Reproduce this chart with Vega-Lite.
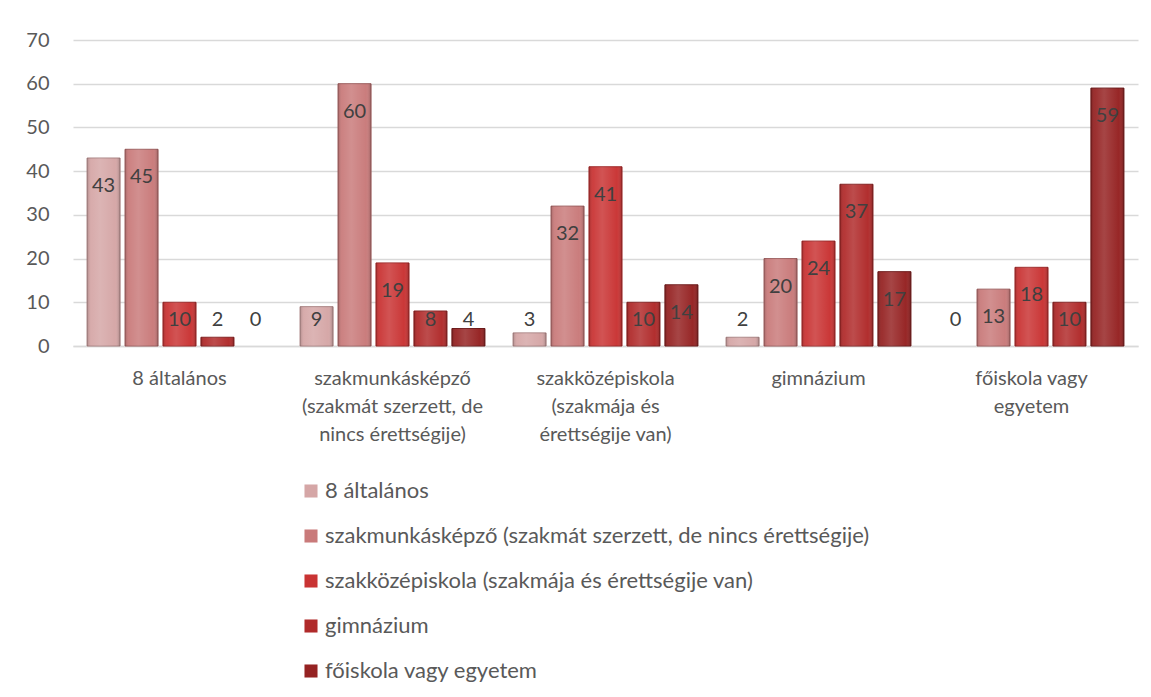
{
  "$schema": "https://vega.github.io/schema/vega-lite/v6.json",
  "autosize": {"type": "none"},
  "width": 1065,
  "height": 306,
  "padding": {"left": 73, "top": 40, "right": 13, "bottom": 351},
  "background": "#ffffff",
  "config": {
    "view": {"stroke": null},
    "font": "Lato",
    "axis": {"labelFont": "Lato", "labelColor": "#595959", "labelFontSize": 20},
    "legend": {"labelFont": "Lato"}
  },
  "data": {
    "values": [
      {"kat": "8 általános", "sor": "8 általános", "ertek": 43},
      {"kat": "8 általános", "sor": "szakmunkásképző (szakmát szerzett, de nincs érettségije)", "ertek": 45},
      {"kat": "8 általános", "sor": "szakközépiskola (szakmája és érettségije van)", "ertek": 10},
      {"kat": "8 általános", "sor": "gimnázium", "ertek": 2},
      {"kat": "8 általános", "sor": "főiskola vagy egyetem", "ertek": 0},
      {"kat": "szakmunkásképző (szakmát szerzett, de nincs érettségije)", "sor": "8 általános", "ertek": 9},
      {"kat": "szakmunkásképző (szakmát szerzett, de nincs érettségije)", "sor": "szakmunkásképző (szakmát szerzett, de nincs érettségije)", "ertek": 60},
      {"kat": "szakmunkásképző (szakmát szerzett, de nincs érettségije)", "sor": "szakközépiskola (szakmája és érettségije van)", "ertek": 19},
      {"kat": "szakmunkásképző (szakmát szerzett, de nincs érettségije)", "sor": "gimnázium", "ertek": 8},
      {"kat": "szakmunkásképző (szakmát szerzett, de nincs érettségije)", "sor": "főiskola vagy egyetem", "ertek": 4},
      {"kat": "szakközépiskola (szakmája és érettségije van)", "sor": "8 általános", "ertek": 3},
      {"kat": "szakközépiskola (szakmája és érettségije van)", "sor": "szakmunkásképző (szakmát szerzett, de nincs érettségije)", "ertek": 32},
      {"kat": "szakközépiskola (szakmája és érettségije van)", "sor": "szakközépiskola (szakmája és érettségije van)", "ertek": 41},
      {"kat": "szakközépiskola (szakmája és érettségije van)", "sor": "gimnázium", "ertek": 10},
      {"kat": "szakközépiskola (szakmája és érettségije van)", "sor": "főiskola vagy egyetem", "ertek": 14},
      {"kat": "gimnázium", "sor": "8 általános", "ertek": 2},
      {"kat": "gimnázium", "sor": "szakmunkásképző (szakmát szerzett, de nincs érettségije)", "ertek": 20},
      {"kat": "gimnázium", "sor": "szakközépiskola (szakmája és érettségije van)", "ertek": 24},
      {"kat": "gimnázium", "sor": "gimnázium", "ertek": 37},
      {"kat": "gimnázium", "sor": "főiskola vagy egyetem", "ertek": 17},
      {"kat": "főiskola vagy egyetem", "sor": "8 általános", "ertek": 0},
      {"kat": "főiskola vagy egyetem", "sor": "szakmunkásképző (szakmát szerzett, de nincs érettségije)", "ertek": 13},
      {"kat": "főiskola vagy egyetem", "sor": "szakközépiskola (szakmája és érettségije van)", "ertek": 18},
      {"kat": "főiskola vagy egyetem", "sor": "gimnázium", "ertek": 10},
      {"kat": "főiskola vagy egyetem", "sor": "főiskola vagy egyetem", "ertek": 59}
    ]
  },
  "encoding": {
    "x": {
      "field": "kat",
      "type": "nominal",
      "sort": null,
      "title": null,
      "scale": {"paddingInner": 0, "paddingOuter": 0},
      "axis": {
        "labelAngle": 0,
        "ticks": false,
        "domainColor": "#d9d9d9",
        "domainWidth": 1.5,
        "labelPadding": 22,
        "labelLimit": 400,
        "labelLineHeight": 28,
        "labelBaseline": "top",
        "labelExpr": "datum.value == 'szakmunkásképző (szakmát szerzett, de nincs érettségije)' ? ['szakmunkásképző', '(szakmát szerzett, de', 'nincs érettségije)'] : datum.value == 'szakközépiskola (szakmája és érettségije van)' ? ['szakközépiskola', '(szakmája és', 'érettségije van)'] : datum.value == 'főiskola vagy egyetem' ? ['főiskola vagy', 'egyetem'] : datum.label"
      }
    },
    "xOffset": {
      "field": "sor",
      "type": "nominal",
      "sort": null,
      "scale": {
        "domain": [
          "8 általános",
          "szakmunkásképző (szakmát szerzett, de nincs érettségije)",
          "szakközépiskola (szakmája és érettségije van)",
          "gimnázium",
          "főiskola vagy egyetem"
        ],
        "paddingInner": 0.13,
        "paddingOuter": 0.37
      }
    }
  },
  "layer": [
    {
      "transform": [{"filter": "datum.ertek > 0"}],
      "mark": {"type": "bar", "strokeWidth": 1},
      "encoding": {
        "y": {
          "field": "ertek",
          "type": "quantitative",
          "title": null,
          "scale": {"domain": [0, 70], "nice": false},
          "axis": {
            "values": [0, 10, 20, 30, 40, 50, 60, 70],
            "domain": false,
            "ticks": false,
            "labelPadding": 24,
            "gridColor": "#d9d9d9",
            "gridWidth": 1.5
          }
        },
        "color": {
          "field": "sor",
          "type": "nominal",
          "sort": null,
          "title": null,
          "scale": {
            "domain": [
              "8 általános",
              "szakmunkásképző (szakmát szerzett, de nincs érettségije)",
              "szakközépiskola (szakmája és érettségije van)",
              "gimnázium",
              "főiskola vagy egyetem"
            ],
            "range": ["#d5a6a6", "#c97a7a", "#c93333", "#b02a2a", "#952222"]
          },
          "legend": {
            "orient": "none",
            "legendX": 227,
            "legendY": 440,
            "direction": "vertical",
            "symbolType": "square",
            "symbolSize": 170,
            "symbolStrokeWidth": 0,
            "labelFontSize": 22,
            "labelColor": "#595959",
            "labelOffset": 3,
            "labelLimit": 800,
            "rowPadding": 23,
            "padding": 0
          }
        },
        "stroke": {
          "field": "sor",
          "type": "nominal",
          "sort": null,
          "legend": null,
          "scale": {
            "domain": [
              "8 általános",
              "szakmunkásképző (szakmát szerzett, de nincs érettségije)",
              "szakközépiskola (szakmája és érettségije van)",
              "gimnázium",
              "főiskola vagy egyetem"
            ],
            "range": ["#a88080", "#9a5a5a", "#9a2424", "#801c1c", "#6a1616"]
          }
        }
      }
    },
    {
      "transform": [{"filter": "datum.ertek > 0"}],
      "mark": {
        "type": "bar",
        "strokeWidth": 0,
        "fill": {
          "gradient": "linear",
          "x1": 0, "y1": 0, "x2": 1, "y2": 0,
          "stops": [
            {"offset": 0, "color": "rgba(0,0,0,0.18)"},
            {"offset": 0.12, "color": "rgba(255,255,255,0.06)"},
            {"offset": 0.4, "color": "rgba(255,255,255,0.16)"},
            {"offset": 0.85, "color": "rgba(255,255,255,0.02)"},
            {"offset": 1, "color": "rgba(0,0,0,0.22)"}
          ]
        }
      },
      "encoding": {
        "y": {"field": "ertek", "type": "quantitative"}
      }
    },
    {
      "transform": [{"filter": "datum.ertek >= 13"}],
      "mark": {"type": "text", "baseline": "middle", "dy": 28, "fontSize": 20, "color": "#404040", "font": "Lato"},
      "encoding": {
        "y": {"field": "ertek", "type": "quantitative"},
        "text": {"field": "ertek", "type": "quantitative"}
      }
    },
    {
      "transform": [{"filter": "datum.ertek < 13"}],
      "mark": {"type": "text", "baseline": "middle", "fontSize": 20, "color": "#404040", "font": "Lato"},
      "encoding": {
        "y": {"datum": 6, "type": "quantitative"},
        "text": {"field": "ertek", "type": "quantitative"}
      }
    }
  ]
}
